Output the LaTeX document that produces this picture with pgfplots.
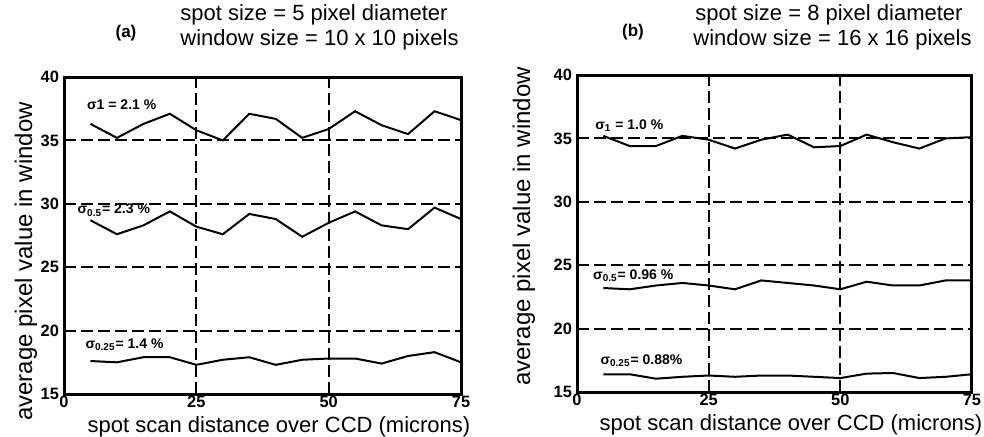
\documentclass[border=0pt]{standalone}
\usepackage{fontspec}
\setmainfont{Liberation Sans}
\usepackage{pgfplots}
\pgfplotsset{compat=1.18}
\pgfplotsset{
  myax/.style={
    scale only axis, width=198.5pt, height=158.5pt,
    xmin=0, xmax=75, ymin=15, ymax=40,
    xtick={0,25,50,75}, ytick={15,20,25,30,35,40},
    grid=major,
    major grid style={black, line width=1pt, dash pattern=on 6pt off 2.5pt},
    axis line style={line width=1.5pt},
    tick style={draw=none},
    /pgf/number format/assume math mode=true,
    ticklabel style={font=\bfseries\fontsize{8.2}{9}\selectfont},
    xticklabel style={yshift=2.5pt},
    yticklabel style={xshift=1pt},
    axis on top,
  },
  dat/.style={black, line width=1pt, no markers},
}
\tikzset{ann/.style={anchor=west, font=\bfseries\fontsize{7}{8}\selectfont, inner sep=0pt}}
\begin{document}
\begin{tikzpicture}
\useasboundingbox (0,0) rectangle (492pt,218pt);
% left panel
\begin{axis}[myax, at={(32pt,21pt)}, anchor=south west]
\addplot[dat] coordinates {(5,36.3)(10,35.2)(15,36.3)(20,37.1)(25,35.8)(30,35.0)(35,37.1)(40,36.7)(45,35.2)(50,35.9)(55,37.3)(60,36.2)(65,35.5)(70,37.3)(75,36.6)};
\addplot[dat] coordinates {(5,28.7)(10,27.6)(15,28.3)(20,29.4)(25,28.2)(30,27.6)(35,29.2)(40,28.8)(45,27.4)(50,28.5)(55,29.4)(60,28.3)(65,28.0)(70,29.7)(75,28.8)};
\addplot[dat] coordinates {(5,17.6)(10,17.5)(15,17.9)(20,17.9)(25,17.3)(30,17.7)(35,17.9)(40,17.3)(45,17.7)(50,17.8)(55,17.8)(60,17.4)(65,18.0)(70,18.3)(75,17.5)};
\node[ann] at (axis cs:4.3,37.8) {σ1 = 2.1 \%};
\node[ann] at (axis cs:2.5,29.5) {σ\textsubscript{0.5}= 2.3 \%};
\node[ann] at (axis cs:4.0,18.9) {σ\textsubscript{0.25}= 1.4 \%};
\end{axis}
% right panel
\begin{axis}[myax, at={(288.5pt,22pt)}, anchor=south west, width=197.5pt]
\addplot[dat] coordinates {(5,35.2)(10,34.4)(15,34.4)(20,35.2)(25,34.9)(30,34.2)(35,34.9)(40,35.3)(45,34.3)(50,34.4)(55,35.3)(60,34.7)(65,34.2)(70,35.0)(75,35.1)};
\addplot[dat] coordinates {(5,23.2)(10,23.1)(15,23.4)(20,23.6)(25,23.4)(30,23.1)(35,23.8)(40,23.6)(45,23.4)(50,23.1)(55,23.7)(60,23.4)(65,23.4)(70,23.8)(75,23.8)};
\addplot[dat] coordinates {(5,16.4)(10,16.4)(15,16.05)(20,16.2)(25,16.3)(30,16.2)(35,16.3)(40,16.3)(45,16.2)(50,16.1)(55,16.45)(60,16.5)(65,16.1)(70,16.2)(75,16.4)};
\node[ann] at (axis cs:3.4,36.0) {σ\textsubscript{1} = 1.0 \%};
\node[ann] at (axis cs:3.0,24.2) {σ\textsubscript{0.5}= 0.96 \%};
\node[ann] at (axis cs:4.4,17.5) {σ\textsubscript{0.25}= 0.88\%};
\end{axis}
% axis labels
\node[rotate=90, font=\fontsize{12}{13}\selectfont] at (13pt,87.25pt) {average pixel value in window};
\node[rotate=90, font=\fontsize{12}{13}\selectfont] at (262pt,104.75pt) {average pixel value in window};
\node[font=\fontsize{11}{12}\selectfont] at (139.5pt,4.5pt) {spot scan distance over CCD (microns)};
\node[font=\fontsize{11}{12}\selectfont] at (395.5pt,5.5pt) {spot scan distance over CCD (microns)};
% titles
\node[anchor=west, font=\fontsize{11}{12}\selectfont, inner sep=0pt] at (90pt,210.5pt) {spot size = 5 pixel diameter};
\node[anchor=west, font=\fontsize{11}{12}\selectfont, inner sep=0pt] at (90pt,198pt) {window size = 10 x 10 pixels};
\node[font=\bfseries\fontsize{8.5}{10}\selectfont] at (63pt,201.5pt) {(a)};
\node[anchor=west, font=\fontsize{11}{12}\selectfont, inner sep=0pt] at (347.5pt,210.5pt) {spot size = 8 pixel diameter};
\node[anchor=west, font=\fontsize{11}{12}\selectfont, inner sep=0pt] at (346.5pt,198pt) {window size = 16 x 16 pixels};
\node[font=\bfseries\fontsize{8.5}{10}\selectfont] at (316.5pt,202pt) {(b)};
\end{tikzpicture}
\end{document}
